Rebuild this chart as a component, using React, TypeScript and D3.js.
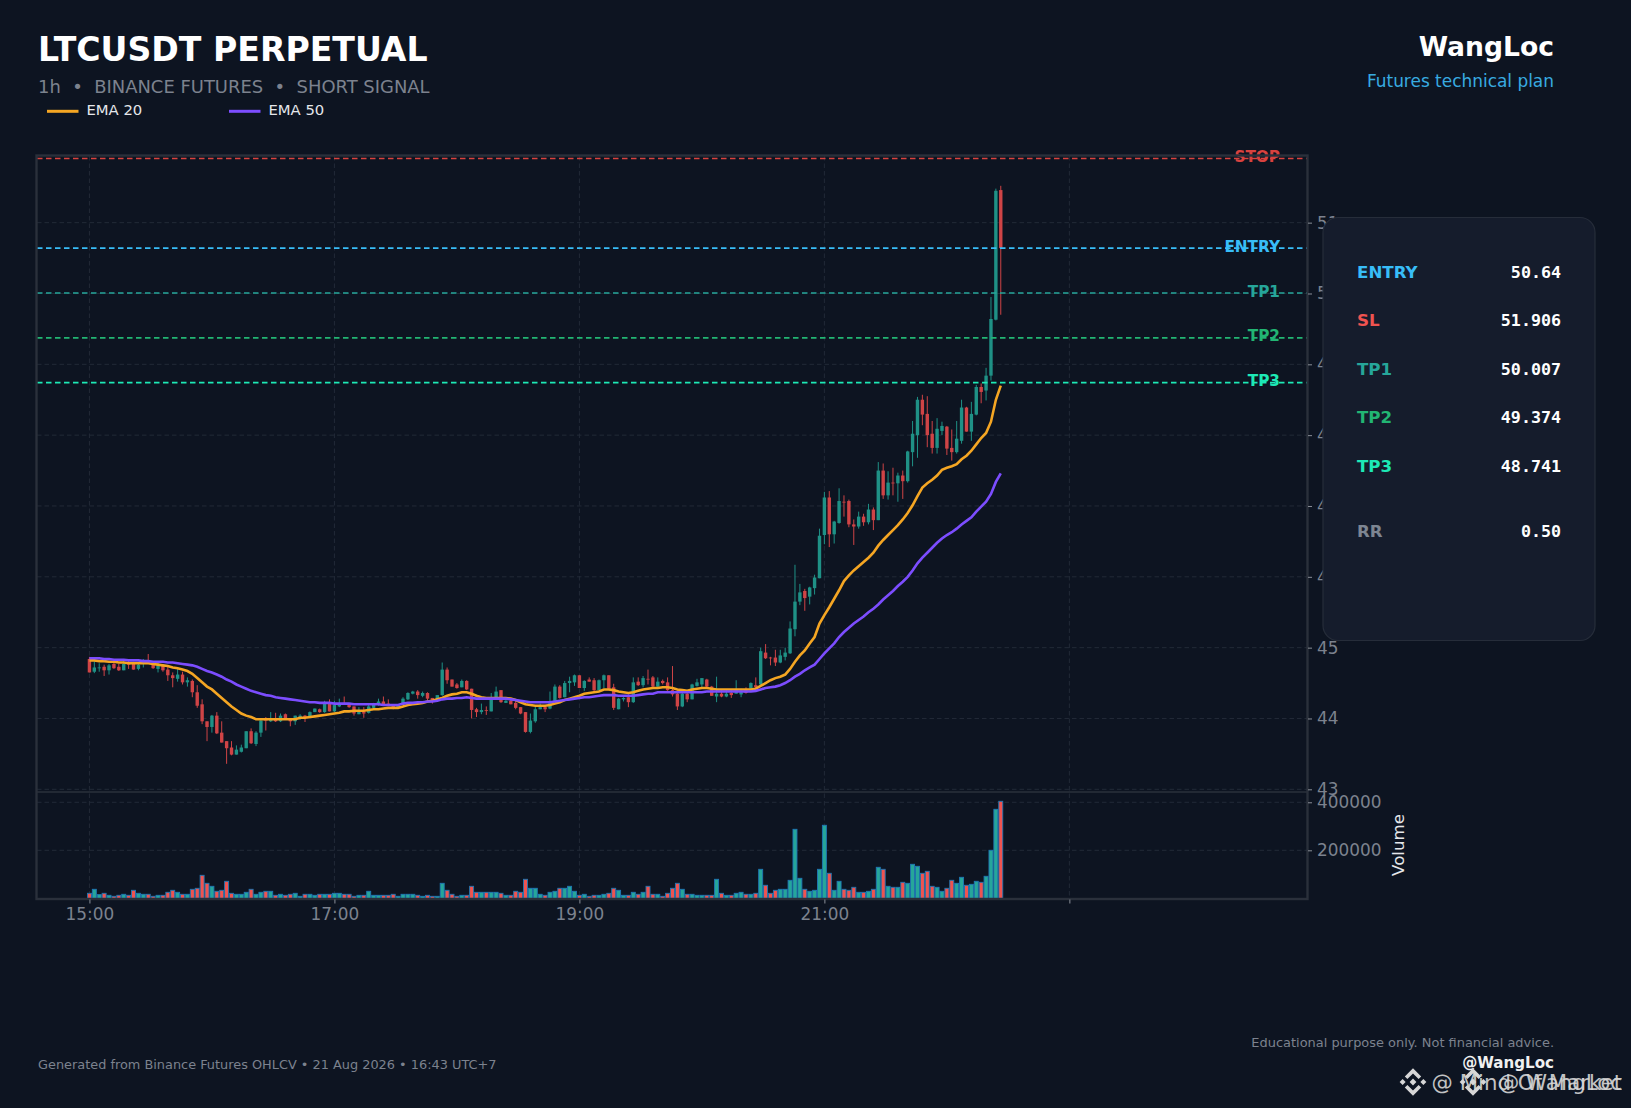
import React, { useEffect, useRef } from 'react';
import * as d3 from 'd3';

// OHLC, one entry per candle
const opens = [
  44.84,44.66,44.72,44.73,44.68,44.77,44.73,44.68,44.79,44.77,
  44.70,44.77,44.80,44.78,44.70,44.75,44.69,44.61,44.56,44.62,
  44.51,44.53,44.37,44.20,43.96,43.88,44.04,43.80,43.68,43.59,
  43.49,43.53,43.58,43.82,43.64,43.80,43.99,43.96,43.99,43.96,
  44.06,43.98,43.96,44.01,44.04,44.03,44.09,44.13,44.09,44.21,
  44.10,44.17,44.21,44.20,44.17,44.06,44.09,44.08,44.15,44.19,
  44.24,44.21,44.19,44.16,44.20,44.27,44.35,44.38,44.32,44.36,
  44.29,44.27,44.33,44.69,44.55,44.48,44.44,44.53,44.42,44.13,
  44.09,44.12,44.10,44.29,44.40,44.22,44.25,44.22,44.16,44.09,
  43.81,43.96,44.13,44.16,44.14,44.25,44.45,44.30,44.50,44.51,
  44.61,44.43,44.55,44.54,44.40,44.54,44.61,44.44,44.13,44.27,
  44.30,44.23,44.52,44.47,44.56,44.58,44.45,44.53,44.51,44.40,
  44.35,44.17,44.35,44.27,44.46,44.48,44.55,44.45,44.31,44.35,
  44.31,44.36,44.35,44.34,44.40,44.42,44.47,44.48,44.93,44.86,
  44.86,44.79,44.87,44.92,45.26,45.65,45.80,45.72,45.84,45.98,
  46.59,47.12,46.60,46.76,47.06,47.07,46.74,46.71,46.85,46.77,
  46.95,46.80,47.50,47.15,47.33,47.32,47.43,47.35,47.76,48.00,
  48.50,48.30,48.02,47.82,48.06,48.12,47.82,47.76,47.92,48.39,
  48.05,48.29,48.68,48.63,48.84,49.63,51.46,
];
const highs = [
  44.87,44.81,44.78,44.76,44.77,44.80,44.77,44.82,44.82,44.80,
  44.80,44.84,44.91,44.79,44.80,44.77,44.73,44.65,44.70,44.66,
  44.58,44.55,44.47,44.27,43.96,44.05,44.09,43.96,43.68,43.68,
  43.62,43.63,43.82,43.86,43.82,44.00,44.02,44.09,44.08,44.07,
  44.07,43.99,44.04,44.06,44.05,44.10,44.14,44.14,44.25,44.27,
  44.25,44.28,44.31,44.21,44.17,44.16,44.16,44.19,44.22,44.28,
  44.31,44.27,44.20,44.20,44.30,44.37,44.39,44.40,44.38,44.37,
  44.29,44.33,44.79,44.72,44.55,44.50,44.55,44.54,44.42,44.15,
  44.21,44.17,44.36,44.45,44.40,44.26,44.26,44.26,44.16,44.09,
  44.07,44.17,44.21,44.18,44.38,44.48,44.47,44.53,44.59,44.62,
  44.61,44.54,44.58,44.57,44.55,44.62,44.61,44.49,44.29,44.30,
  44.34,44.58,44.58,44.60,44.69,44.60,44.58,44.55,44.58,44.74,
  44.40,44.37,44.37,44.49,44.56,44.57,44.56,44.46,44.59,44.40,
  44.40,44.40,44.54,44.42,44.44,44.51,44.58,45.00,45.05,44.87,
  44.97,44.97,45.00,45.37,46.17,45.90,45.83,45.86,46.03,46.68,
  47.20,47.21,46.79,47.25,47.15,47.09,46.81,46.92,46.89,47.03,
  46.98,47.62,47.60,47.49,47.54,47.47,47.50,47.78,48.20,48.54,
  48.57,48.55,48.20,48.24,48.19,48.13,48.08,48.20,48.50,48.40,
  48.47,48.71,48.73,48.95,49.95,51.48,51.52,
];
const lows = [
  44.65,44.64,44.66,44.60,44.62,44.70,44.67,44.68,44.70,44.69,
  44.68,44.72,44.77,44.70,44.65,44.66,44.53,44.44,44.52,44.48,
  44.45,44.30,44.15,43.92,43.68,43.80,43.78,43.66,43.36,43.48,
  43.49,43.52,43.58,43.64,43.61,43.74,43.83,43.95,43.95,43.95,
  43.98,43.89,43.91,43.98,43.95,44.01,44.09,44.08,44.08,44.10,
  44.09,44.16,44.20,44.15,44.04,44.06,44.01,44.07,44.14,44.18,
  44.19,44.18,44.13,44.15,44.19,44.26,44.34,44.28,44.30,44.23,
  44.21,44.27,44.32,44.49,44.45,44.42,44.44,44.40,44.00,44.02,
  44.06,44.05,44.10,44.28,44.22,44.22,44.20,44.13,44.06,43.80,
  43.79,43.94,44.13,44.09,44.13,44.23,44.28,44.30,44.37,44.46,
  44.43,44.39,44.52,44.38,44.40,44.43,44.40,44.12,44.13,44.24,
  44.16,44.22,44.46,44.44,44.48,44.44,44.44,44.48,44.39,44.31,
  44.12,44.16,44.23,44.27,44.45,44.43,44.44,44.32,44.23,44.30,
  44.30,44.29,44.35,44.30,44.35,44.41,44.42,44.47,44.84,44.75,
  44.74,44.78,44.82,44.91,45.16,45.60,45.52,45.61,45.75,45.98,
  46.46,46.42,46.47,46.75,46.85,46.70,46.45,46.68,46.72,46.74,
  46.66,46.80,47.10,47.09,47.15,47.06,47.10,47.33,47.56,47.68,
  48.14,47.83,47.74,47.74,48.00,47.72,47.64,47.74,47.88,48.05,
  47.92,48.28,48.45,48.49,48.77,49.62,49.70,
];
const closes = [
  44.65,44.72,44.72,44.68,44.75,44.71,44.68,44.77,44.76,44.69,
  44.76,44.78,44.78,44.71,44.75,44.68,44.61,44.57,44.62,44.51,
  44.54,44.37,44.18,43.96,43.88,44.04,43.79,43.66,43.58,43.49,
  43.56,43.59,43.82,43.65,43.80,43.97,43.97,43.98,43.96,44.04,
  43.98,43.96,44.04,44.04,44.01,44.09,44.14,44.09,44.21,44.10,
  44.19,44.21,44.20,44.16,44.07,44.10,44.07,44.17,44.20,44.24,
  44.20,44.19,44.14,44.19,44.28,44.36,44.38,44.33,44.36,44.28,
  44.26,44.33,44.69,44.54,44.45,44.43,44.53,44.41,44.12,44.09,
  44.12,44.11,44.29,44.38,44.23,44.25,44.20,44.15,44.07,43.81,
  43.97,44.13,44.16,44.13,44.23,44.45,44.29,44.50,44.53,44.61,
  44.43,44.53,44.52,44.40,44.54,44.61,44.42,44.15,44.28,44.29,
  44.23,44.51,44.47,44.57,44.55,44.45,44.52,44.50,44.40,44.34,
  44.17,44.35,44.27,44.48,44.51,44.57,44.45,44.32,44.35,44.31,
  44.35,44.33,44.40,44.37,44.36,44.50,44.44,44.95,44.85,44.85,
  44.79,44.89,44.93,45.27,45.65,45.78,45.70,45.85,45.99,46.58,
  47.12,46.60,46.78,47.07,47.05,46.74,46.71,46.85,46.77,46.95,
  46.80,47.50,47.15,47.33,47.32,47.43,47.35,47.77,48.02,48.50,
  48.29,48.00,47.82,48.09,48.13,47.81,47.76,47.95,48.39,48.05,
  48.30,48.68,48.61,48.84,49.64,51.45,50.64,
];
const volumes = [
  20800,37500,15300,20800,12500,8300,12500,16700,12500,33300,
  20800,16700,16700,8300,12500,12500,25000,33300,25000,16700,
  16700,37500,41700,95800,62500,50000,29200,33300,70800,20800,
  16700,16700,25000,37500,16700,25000,29200,29200,12500,16700,
  12500,16700,20800,8300,16700,16700,12500,16700,16700,16700,
  20800,20800,16700,16700,8300,12500,12500,29200,12500,12500,
  12500,12500,16700,8300,16700,16700,16700,12500,8300,12500,
  8300,8300,62500,33300,16700,8300,12500,12500,50000,25000,
  25000,25000,25000,25000,20800,12500,12500,29200,25000,79200,
  41700,41700,16700,12500,25000,29200,41700,41700,50000,29200,
  12500,16700,8300,12500,12500,16700,20800,41700,33300,12500,
  12500,25000,16700,25000,50000,16700,16700,8300,20800,41700,
  62500,37500,16700,16700,12500,12500,12500,12500,79200,20800,
  12500,12500,20800,25000,16700,16700,20800,120800,54200,20800,
  33300,37500,37500,75000,287500,83300,37500,29200,33300,120800,
  304200,104200,33300,70800,37500,33300,45800,25000,25000,29200,
  37500,129200,120800,50000,45800,45800,66700,62500,141700,133300,
  104200,112500,50000,45800,29200,41700,75000,62500,87500,54200,
  58300,70800,66700,91700,200000,370800,404200,
];
const ema20 = [
  44.82,44.82,44.81,44.81,44.80,44.80,44.79,44.79,44.78,44.78,
  44.78,44.78,44.78,44.77,44.76,44.75,44.74,44.72,44.71,44.69,
  44.67,44.63,44.57,44.51,44.45,44.41,44.35,44.29,44.23,44.17,
  44.12,44.07,44.04,44.02,43.99,43.99,43.99,43.99,43.99,43.99,
  43.99,43.99,43.99,44.01,44.01,44.02,44.03,44.04,44.05,44.06,
  44.07,44.08,44.10,44.10,44.11,44.11,44.11,44.12,44.13,44.13,
  44.14,44.15,44.15,44.15,44.17,44.19,44.20,44.21,44.22,44.24,
  44.25,44.27,44.29,44.32,44.34,44.35,44.37,44.37,44.35,44.32,
  44.30,44.29,44.29,44.29,44.29,44.29,44.28,44.26,44.23,44.20,
  44.19,44.18,44.18,44.18,44.19,44.21,44.23,44.26,44.28,44.30,
  44.32,44.35,44.36,44.37,44.38,44.41,44.41,44.40,44.38,44.37,
  44.36,44.37,44.39,44.41,44.42,44.43,44.43,44.44,44.44,44.43,
  44.41,44.40,44.39,44.41,44.42,44.43,44.43,44.42,44.41,44.41,
  44.41,44.41,44.41,44.41,44.41,44.41,44.42,44.46,44.50,44.54,
  44.57,44.59,44.62,44.70,44.80,44.89,44.96,45.06,45.15,45.34,
  45.46,45.57,45.69,45.81,45.94,46.02,46.09,46.15,46.21,46.27,
  46.34,46.44,46.52,46.59,46.66,46.73,46.81,46.90,47.01,47.14,
  47.26,47.32,47.37,47.43,47.51,47.54,47.56,47.59,47.66,47.71,
  47.78,47.87,47.96,48.03,48.19,48.50,48.70,
];
const ema50 = [
  44.85,44.85,44.85,44.84,44.84,44.83,44.83,44.83,44.82,44.82,
  44.82,44.81,44.81,44.80,44.80,44.80,44.79,44.79,44.78,44.77,
  44.76,44.75,44.73,44.70,44.67,44.65,44.62,44.59,44.55,44.52,
  44.48,44.45,44.42,44.39,44.37,44.35,44.33,44.32,44.30,44.29,
  44.28,44.27,44.26,44.25,44.24,44.23,44.23,44.22,44.22,44.22,
  44.21,44.21,44.21,44.21,44.20,44.20,44.20,44.20,44.20,44.20,
  44.19,44.19,44.19,44.19,44.21,44.22,44.22,44.23,44.23,44.24,
  44.24,44.25,44.27,44.28,44.28,44.29,44.29,44.30,44.29,44.28,
  44.28,44.28,44.28,44.28,44.28,44.28,44.27,44.26,44.25,44.24,
  44.23,44.23,44.23,44.23,44.23,44.24,44.25,44.26,44.27,44.28,
  44.29,44.30,44.30,44.31,44.32,44.33,44.33,44.33,44.32,44.32,
  44.32,44.32,44.33,44.34,44.35,44.35,44.37,44.37,44.37,44.37,
  44.37,44.37,44.37,44.37,44.37,44.37,44.38,44.38,44.38,44.38,
  44.38,44.38,44.38,44.38,44.38,44.38,44.39,44.41,44.43,44.44,
  44.45,44.47,44.50,44.54,44.59,44.63,44.68,44.72,44.76,44.84,
  44.92,44.99,45.06,45.15,45.22,45.28,45.34,45.39,45.44,45.50,
  45.55,45.61,45.68,45.74,45.80,45.87,45.93,46.00,46.09,46.19,
  46.27,46.34,46.41,46.48,46.54,46.59,46.63,46.68,46.74,46.79,
  46.84,46.92,46.99,47.06,47.17,47.34,47.46,
];

const priceTicks = [43, 44, 45, 46, 47, 48, 49, 50, 51];
const volumeTicks = [200000, 400000];
const timeTickIdx = [0, 50, 100, 150, 200];
const timeTickLabels = ['15:00', '17:00', '19:00', '21:00', ''];

const levelNames = ['STOP', 'ENTRY', 'TP1', 'TP2', 'TP3'];
const levelValues = [51.906, 50.64, 50.007, 49.374, 48.741];
const levelColors = ['#d9423f', '#38bdf8', '#26a69a', '#22b573', '#1de9b6'];

const panelNames = ['ENTRY', 'SL', 'TP1', 'TP2', 'TP3'];
const panelValues = ['50.64', '51.906', '50.007', '49.374', '48.741'];
const panelColors = ['#38bdf8', '#ef5350', '#26a69a', '#22b573', '#1de9b6'];

const WIDTH = 1631;
const HEIGHT = 1108;
const SANS = '"DejaVu Sans", sans-serif';
const MONO = '"DejaVu Sans Mono", monospace';

const BG = '#0d1421';
const GRID = '#222a37';
const FRAME = '#2a303b';
const MUTED = '#7c828e';

export default function App() {
  const svgRef = useRef<SVGSVGElement>(null);

  useEffect(() => {
    if (!svgRef.current) return;
    const svg = d3.select(svgRef.current);
    svg.selectAll('*').remove();

    const left = 37;
    const right = 1307;
    const top = 156;
    const mid = 792;
    const bottom = 899;

    const x = d3.scaleLinear().domain([-10.7, 248.5]).range([left, right]);
    const y = d3.scaleLinear().domain([42.962, 51.941]).range([mid, top]);
    const yVol = d3.scaleLinear().domain([0, 442900]).range([898.3, mid]);

    const text = (
      tx: number, ty: number, str: string, size: number, fill: string,
      opts: { weight?: string; anchor?: string; family?: string } = {}
    ) => svg.append('text')
      .attr('x', tx).attr('y', ty)
      .attr('font-family', opts.family || SANS)
      .attr('font-size', size)
      .attr('font-weight', opts.weight || 'normal')
      .attr('text-anchor', opts.anchor || 'start')
      .attr('fill', fill)
      .text(str);

    svg.append('rect').attr('width', WIDTH).attr('height', HEIGHT).attr('fill', BG);

    // grid
    const grid = svg.append('g').attr('stroke', GRID).attr('stroke-width', 1).attr('stroke-dasharray', '4.5,3');
    priceTicks.forEach(t => {
      grid.append('line').attr('x1', left).attr('x2', right).attr('y1', y(t)).attr('y2', y(t));
    });
    volumeTicks.forEach(t => {
      grid.append('line').attr('x1', left).attr('x2', right).attr('y1', yVol(t)).attr('y2', yVol(t));
    });
    timeTickIdx.forEach(t => {
      grid.append('line').attr('x1', x(t)).attr('x2', x(t)).attr('y1', top).attr('y2', bottom);
    });

    const idx = d3.range(opens.length);

    // volume bars
    svg.append('g').selectAll('rect').data(idx).enter().append('rect')
      .attr('x', i => x(i) - 2)
      .attr('width', 4)
      .attr('y', i => yVol(volumes[i]))
      .attr('height', i => yVol(0) - yVol(volumes[i]))
      .attr('fill', i => closes[i] >= opens[i] ? '#26a69a' : '#ef5350')
      .attr('stroke', '#1f77b4')
      .attr('stroke-width', 0.9);

    // candles
    const candles = svg.append('g').selectAll('g').data(idx).enter().append('g');
    const candleColor = (i: number) => closes[i] >= opens[i] ? '#1f9186' : '#cf4446';
    candles.append('line')
      .attr('x1', i => x(i)).attr('x2', i => x(i))
      .attr('y1', i => y(highs[i])).attr('y2', i => y(lows[i]))
      .attr('stroke', candleColor).attr('stroke-width', 1);
    candles.append('rect')
      .attr('x', i => x(i) - 1.7)
      .attr('width', 3.4)
      .attr('y', i => y(Math.max(opens[i], closes[i])))
      .attr('height', i => Math.max(0.8, Math.abs(y(opens[i]) - y(closes[i]))))
      .attr('fill', candleColor);

    // EMA lines
    const line = d3.line<number>().x((_, i) => x(i)).y(d => y(d));
    svg.append('path').attr('d', line(ema20)).attr('fill', 'none')
      .attr('stroke', '#f5a623').attr('stroke-width', 2.6);
    svg.append('path').attr('d', line(ema50)).attr('fill', 'none')
      .attr('stroke', '#7c4dff').attr('stroke-width', 2.6);

    // level labels sit under their dashed lines
    levelNames.forEach((name, i) => {
      text(1280, y(levelValues[i]) + 3.6, name, 15.28, levelColors[i], { weight: 'bold', anchor: 'end' });
      svg.append('line')
        .attr('x1', left).attr('x2', right)
        .attr('y1', y(levelValues[i])).attr('y2', y(levelValues[i]))
        .attr('stroke', levelColors[i])
        .attr('stroke-width', i === 0 ? 1.3 : 1.7)
        .attr('stroke-dasharray', '5.5,3.5');
    });

    // frame + divider
    svg.append('rect')
      .attr('x', left - 0.5).attr('y', top - 0.5)
      .attr('width', right - left + 1).attr('height', bottom - top + 0.5)
      .attr('fill', 'none').attr('stroke', FRAME).attr('stroke-width', 2.4);
    svg.append('line').attr('x1', left).attr('x2', right).attr('y1', mid).attr('y2', mid)
      .attr('stroke', FRAME).attr('stroke-width', 1.4);

    // axes
    const styleAxis = (g: d3.Selection<SVGGElement, unknown, null, undefined>) => {
      g.select('.domain').remove();
      g.selectAll('.tick line').attr('stroke', '#8a8f98').attr('stroke-width', 1);
      g.selectAll('.tick text')
        .attr('fill', MUTED)
        .attr('font-family', SANS)
        .attr('font-size', 16.9);
    };
    svg.append('g').attr('transform', `translate(${right + 1},0)`)
      .call(d3.axisRight(y).tickValues(priceTicks).tickSize(4).tickPadding(5).tickFormat(d3.format('d')) as any)
      .call(styleAxis as any);
    svg.append('g').attr('transform', `translate(${right + 1},0)`)
      .call(d3.axisRight(yVol).tickValues(volumeTicks).tickSize(4).tickPadding(5).tickFormat(d3.format('d')) as any)
      .call(styleAxis as any);
    svg.append('g').attr('transform', `translate(0,${bottom + 0.5})`)
      .call(d3.axisBottom(x).tickValues(timeTickIdx).tickSize(4).tickPadding(5)
        .tickFormat((_, i) => timeTickLabels[i]) as any)
      .call(styleAxis as any);

    svg.append('text')
      .attr('transform', 'translate(1403.5,845) rotate(-90)')
      .attr('text-anchor', 'middle')
      .attr('font-family', SANS).attr('font-size', 16.67).attr('fill', '#e5e7eb')
      .text('Volume');

    // header
    text(38, 61, 'LTCUSDT PERPETUAL', 33.15, '#ffffff', { weight: 'bold' });
    text(38, 92.7, '1h  \u2022  BINANCE FUTURES  \u2022  SHORT SIGNAL', 17.95, MUTED).style('white-space', 'pre');
    text(1554, 55.5, 'WangLoc', 26.6, '#ffffff', { weight: 'bold', anchor: 'end' });
    text(1554, 86.5, 'Futures technical plan', 16.95, '#38abe0', { anchor: 'end' });

    // legend
    const legendX = [47, 229];
    const legendLabels = ['EMA 20', 'EMA 50'];
    const legendColors = ['#f5a623', '#7c4dff'];
    legendLabels.forEach((label, i) => {
      svg.append('line')
        .attr('x1', legendX[i]).attr('x2', legendX[i] + 31.5).attr('y1', 111.3).attr('y2', 111.3)
        .attr('stroke', legendColors[i]).attr('stroke-width', 3);
      text(legendX[i] + 39.5, 115.3, label, 14.8, '#e5e7eb');
    });

    // summary panel
    svg.append('rect')
      .attr('x', 1323).attr('y', 217.5).attr('width', 272).attr('height', 423)
      .attr('rx', 15).attr('fill', '#151c2c').attr('stroke', '#262d3a').attr('stroke-width', 1.2);
    panelNames.forEach((name, i) => {
      const rowY = 277.5 + i * 48.6;
      text(1357, rowY, name, 16.67, panelColors[i], { weight: 'bold' });
      text(1561, rowY, panelValues[i], 16.67, '#ffffff', { weight: 'bold', anchor: 'end', family: MONO });
    });
    text(1357, 536.5, 'RR', 16.67, '#7d8592', { weight: 'bold' });
    text(1561, 536.5, '0.50', 16.67, '#ffffff', { weight: 'bold', anchor: 'end', family: MONO });

    // footer
    text(38, 1069, 'Generated from Binance Futures OHLCV \u2022 21 Aug 2026 \u2022 16:43 UTC+7', 12.88, MUTED);
    text(1554, 1047, 'Educational purpose only. Not financial advice.', 12.95, MUTED, { anchor: 'end' });
    text(1554, 1068, '@WangLoc', 15.1, '#f0f0f0', { weight: 'bold', anchor: 'end' });

    // overlaid watermarks
    const logo = (cx: number, cy: number) => {
      const g = svg.append('g').attr('transform', `translate(${cx},${cy})`).attr('fill', '#d6d6d6');
      const diamonds: [number, number][] = [[0, 3.4], [-10.4, 3], [10.4, 3]];
      diamonds.forEach(([dx, r]) => {
        g.append('path').attr('d', `M${dx - r},0L${dx},${-r}L${dx + r},0L${dx},${r}Z`);
      });
      g.append('path').attr('d', 'M0,-13.8L8.2,-5.6L5.6,-3L0,-8.6L-5.6,-3L-8.2,-5.6Z');
      g.append('path').attr('d', 'M0,13.8L8.2,5.6L5.6,3L0,8.6L-5.6,3L-8.2,5.6Z');
    };
    logo(1413, 1082);
    logo(1473, 1082);
    text(1622, 1090, '@ Mind Of Market', 21.3, '#d6d6d6', { anchor: 'end' }).attr('opacity', 0.9);
    text(1622, 1090, '@ WangLoc', 21.3, '#d6d6d6', { anchor: 'end' }).attr('opacity', 0.9).style('white-space', 'pre');
  }, []);

  return (
    <svg
      ref={svgRef}
      width={WIDTH}
      height={HEIGHT}
      style={{ position: 'absolute', left: 0, top: 0, display: 'block' }}
    />
  );
}
